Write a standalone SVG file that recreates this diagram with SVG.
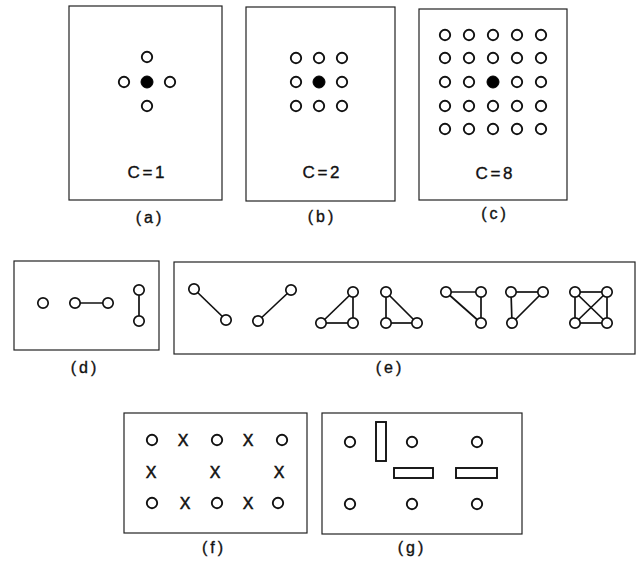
<svg xmlns="http://www.w3.org/2000/svg" width="639" height="561" viewBox="0 0 639 561">
<style>
.box{fill:none;stroke:#222;stroke-width:1.2}
.o{fill:#fff;stroke:#111;stroke-width:1.9}
.s{fill:#fff;stroke:#111;stroke-width:1.7}
.f{fill:#000;stroke:#000;stroke-width:1}
.ln{stroke:#111;stroke-width:1.7;fill:none}
.bar{fill:#fff;stroke:#111;stroke-width:1.9}
.t{font-family:"Liberation Sans","DejaVu Sans",sans-serif;font-size:17px;fill:#111;stroke:#111;stroke-width:0.35;text-anchor:middle;word-spacing:-2px}
.lab{font-family:"Liberation Sans","DejaVu Sans",sans-serif;font-size:16px;fill:#111;stroke:#111;stroke-width:0.35;text-anchor:middle;letter-spacing:3px}
.x{font-family:"Liberation Sans","DejaVu Sans",sans-serif;font-size:16px;fill:#111;stroke:#111;stroke-width:0.5;text-anchor:middle}
</style>
<rect width="639" height="561" fill="#fff"/>

<g id="panel-a">
<rect class="box" x="69" y="6" width="153" height="194"/>
<circle class="o" cx="147" cy="57" r="5.2"/>
<circle class="o" cx="124" cy="82" r="5.2"/>
<circle class="f" cx="147" cy="82" r="6"/>
<circle class="o" cx="170" cy="82" r="5.2"/>
<circle class="o" cx="147" cy="106" r="5.2"/>
<text class="t" x="146" y="178">C = 1</text>
<text class="lab" x="150" y="223">(a)</text>
</g>

<g id="panel-b">
<rect class="box" x="246" y="7" width="149" height="194"/>
<circle class="o" cx="296" cy="58" r="5.2"/>
<circle class="o" cx="319" cy="58" r="5.2"/>
<circle class="o" cx="342" cy="58" r="5.2"/>
<circle class="o" cx="296" cy="82" r="5.2"/>
<circle class="f" cx="319" cy="82" r="6"/>
<circle class="o" cx="342" cy="82" r="5.2"/>
<circle class="o" cx="296" cy="106" r="5.2"/>
<circle class="o" cx="319" cy="106" r="5.2"/>
<circle class="o" cx="342" cy="106" r="5.2"/>
<text class="t" x="321" y="178">C = 2</text>
<text class="lab" x="322" y="222">(b)</text>
</g>

<g id="panel-c">
<rect class="box" x="419" y="9" width="148" height="191"/>
<circle class="o" cx="445" cy="35" r="5.2"/><circle class="o" cx="469" cy="35" r="5.2"/><circle class="o" cx="493" cy="35" r="5.2"/><circle class="o" cx="517" cy="35" r="5.2"/><circle class="o" cx="541" cy="35" r="5.2"/>
<circle class="o" cx="445" cy="58" r="5.2"/><circle class="o" cx="469" cy="58" r="5.2"/><circle class="o" cx="493" cy="58" r="5.2"/><circle class="o" cx="517" cy="58" r="5.2"/><circle class="o" cx="541" cy="58" r="5.2"/>
<circle class="o" cx="445" cy="82" r="5.2"/><circle class="o" cx="469" cy="82" r="5.2"/><circle class="f" cx="493" cy="82" r="6"/><circle class="o" cx="517" cy="82" r="5.2"/><circle class="o" cx="541" cy="82" r="5.2"/>
<circle class="o" cx="445" cy="106" r="5.2"/><circle class="o" cx="469" cy="106" r="5.2"/><circle class="o" cx="493" cy="106" r="5.2"/><circle class="o" cx="517" cy="106" r="5.2"/><circle class="o" cx="541" cy="106" r="5.2"/>
<circle class="o" cx="445" cy="129" r="5.2"/><circle class="o" cx="469" cy="129" r="5.2"/><circle class="o" cx="493" cy="129" r="5.2"/><circle class="o" cx="517" cy="129" r="5.2"/><circle class="o" cx="541" cy="129" r="5.2"/>
<text class="t" x="494" y="179">C = 8</text>
<text class="lab" x="495" y="219">(c)</text>
</g>

<g id="connectors">
<line class="ln" x1="75" y1="303" x2="108" y2="303"/>
<line class="ln" x1="139" y1="290" x2="139" y2="321"/>
<line class="ln" x1="194" y1="289" x2="226" y2="320"/>
<line class="ln" x1="258" y1="321" x2="291" y2="290"/>
<line class="ln" x1="353" y1="292" x2="321" y2="323"/>
<line class="ln" x1="353" y1="292" x2="353" y2="323"/>
<line class="ln" x1="321" y1="323" x2="353" y2="323"/>
<line class="ln" x1="386" y1="292" x2="386" y2="323"/>
<line class="ln" x1="386" y1="323" x2="417" y2="323"/>
<line class="ln" x1="386" y1="292" x2="417" y2="323"/>
<line class="ln" x1="446" y1="292" x2="481" y2="292"/>
<line class="ln" x1="481" y1="292" x2="481" y2="323"/>
<line class="ln" x1="446" y1="292" x2="481" y2="323"/>
<line class="ln" x1="511" y1="292" x2="543" y2="292"/>
<line class="ln" x1="511" y1="292" x2="512" y2="323"/>
<line class="ln" x1="543" y1="292" x2="512" y2="323"/>
<line class="ln" x1="575" y1="292" x2="607" y2="292"/>
<line class="ln" x1="575" y1="323" x2="607" y2="323"/>
<line class="ln" x1="575" y1="292" x2="575" y2="323"/>
<line class="ln" x1="607" y1="292" x2="607" y2="323"/>
<line class="ln" x1="575" y1="292" x2="607" y2="323"/>
<line class="ln" x1="607" y1="292" x2="575" y2="323"/>
</g>

<g id="panel-d">
<rect class="box" x="14" y="261" width="145" height="89"/>
<circle class="s" cx="43" cy="303" r="5.2"/>
<circle class="s" cx="75" cy="303" r="5.2"/>
<circle class="s" cx="108" cy="303" r="5.2"/>
<circle class="s" cx="139" cy="290" r="5.2"/>
<circle class="s" cx="139" cy="321" r="5.2"/>
<text class="lab" x="85" y="373">(d)</text>
</g>

<g id="panel-e">
<rect class="box" x="174" y="262" width="461" height="92"/>
<circle class="s" cx="194" cy="289" r="5.2"/>
<circle class="s" cx="226" cy="320" r="5.2"/>
<circle class="s" cx="258" cy="321" r="5.2"/>
<circle class="s" cx="291" cy="290" r="5.2"/>
<circle class="s" cx="353" cy="292" r="5.2"/>
<circle class="s" cx="321" cy="323" r="5.2"/>
<circle class="s" cx="353" cy="323" r="5.2"/>
<circle class="s" cx="386" cy="292" r="5.2"/>
<circle class="s" cx="386" cy="323" r="5.2"/>
<circle class="s" cx="417" cy="323" r="5.2"/>
<circle class="s" cx="446" cy="292" r="5.2"/>
<circle class="s" cx="481" cy="292" r="5.2"/>
<circle class="s" cx="481" cy="323" r="5.2"/>
<circle class="s" cx="511" cy="292" r="5.2"/>
<circle class="s" cx="543" cy="292" r="5.2"/>
<circle class="s" cx="512" cy="323" r="5.2"/>
<circle class="s" cx="575" cy="292" r="5.2"/>
<circle class="s" cx="607" cy="292" r="5.2"/>
<circle class="s" cx="575" cy="323" r="5.2"/>
<circle class="s" cx="607" cy="323" r="5.2"/>
<text class="lab" x="390" y="373">(e)</text>
</g>

<g id="panel-f">
<rect class="box" x="124" y="413" width="183" height="120"/>
<circle class="o" cx="152" cy="440" r="5.2"/>
<circle class="o" cx="217" cy="440" r="5.2"/>
<circle class="o" cx="282" cy="440" r="5.2"/>
<circle class="o" cx="152" cy="503" r="5.2"/>
<circle class="o" cx="217" cy="503" r="5.2"/>
<circle class="o" cx="278" cy="503" r="5.2"/>
<text class="x" x="183" y="446">X</text>
<text class="x" x="248" y="446">X</text>
<text class="x" x="151" y="478">X</text>
<text class="x" x="215" y="478">X</text>
<text class="x" x="279" y="478">X</text>
<text class="x" x="185" y="509">X</text>
<text class="x" x="248" y="509">X</text>
<text class="lab" x="214" y="553">(f)</text>
</g>

<g id="panel-g">
<rect class="box" x="322" y="413" width="200" height="121"/>
<circle class="o" cx="350" cy="442" r="5.2"/>
<circle class="o" cx="412" cy="442" r="5.2"/>
<circle class="o" cx="477" cy="442" r="5.2"/>
<circle class="o" cx="350" cy="504" r="5.2"/>
<circle class="o" cx="412" cy="504" r="5.2"/>
<circle class="o" cx="477" cy="504" r="5.2"/>
<rect class="bar" x="376" y="422" width="10" height="39"/>
<rect class="bar" x="394" y="468" width="39" height="10"/>
<rect class="bar" x="456" y="468" width="41" height="10"/>
<text class="lab" x="412" y="553">(g)</text>
</g>
</svg>
